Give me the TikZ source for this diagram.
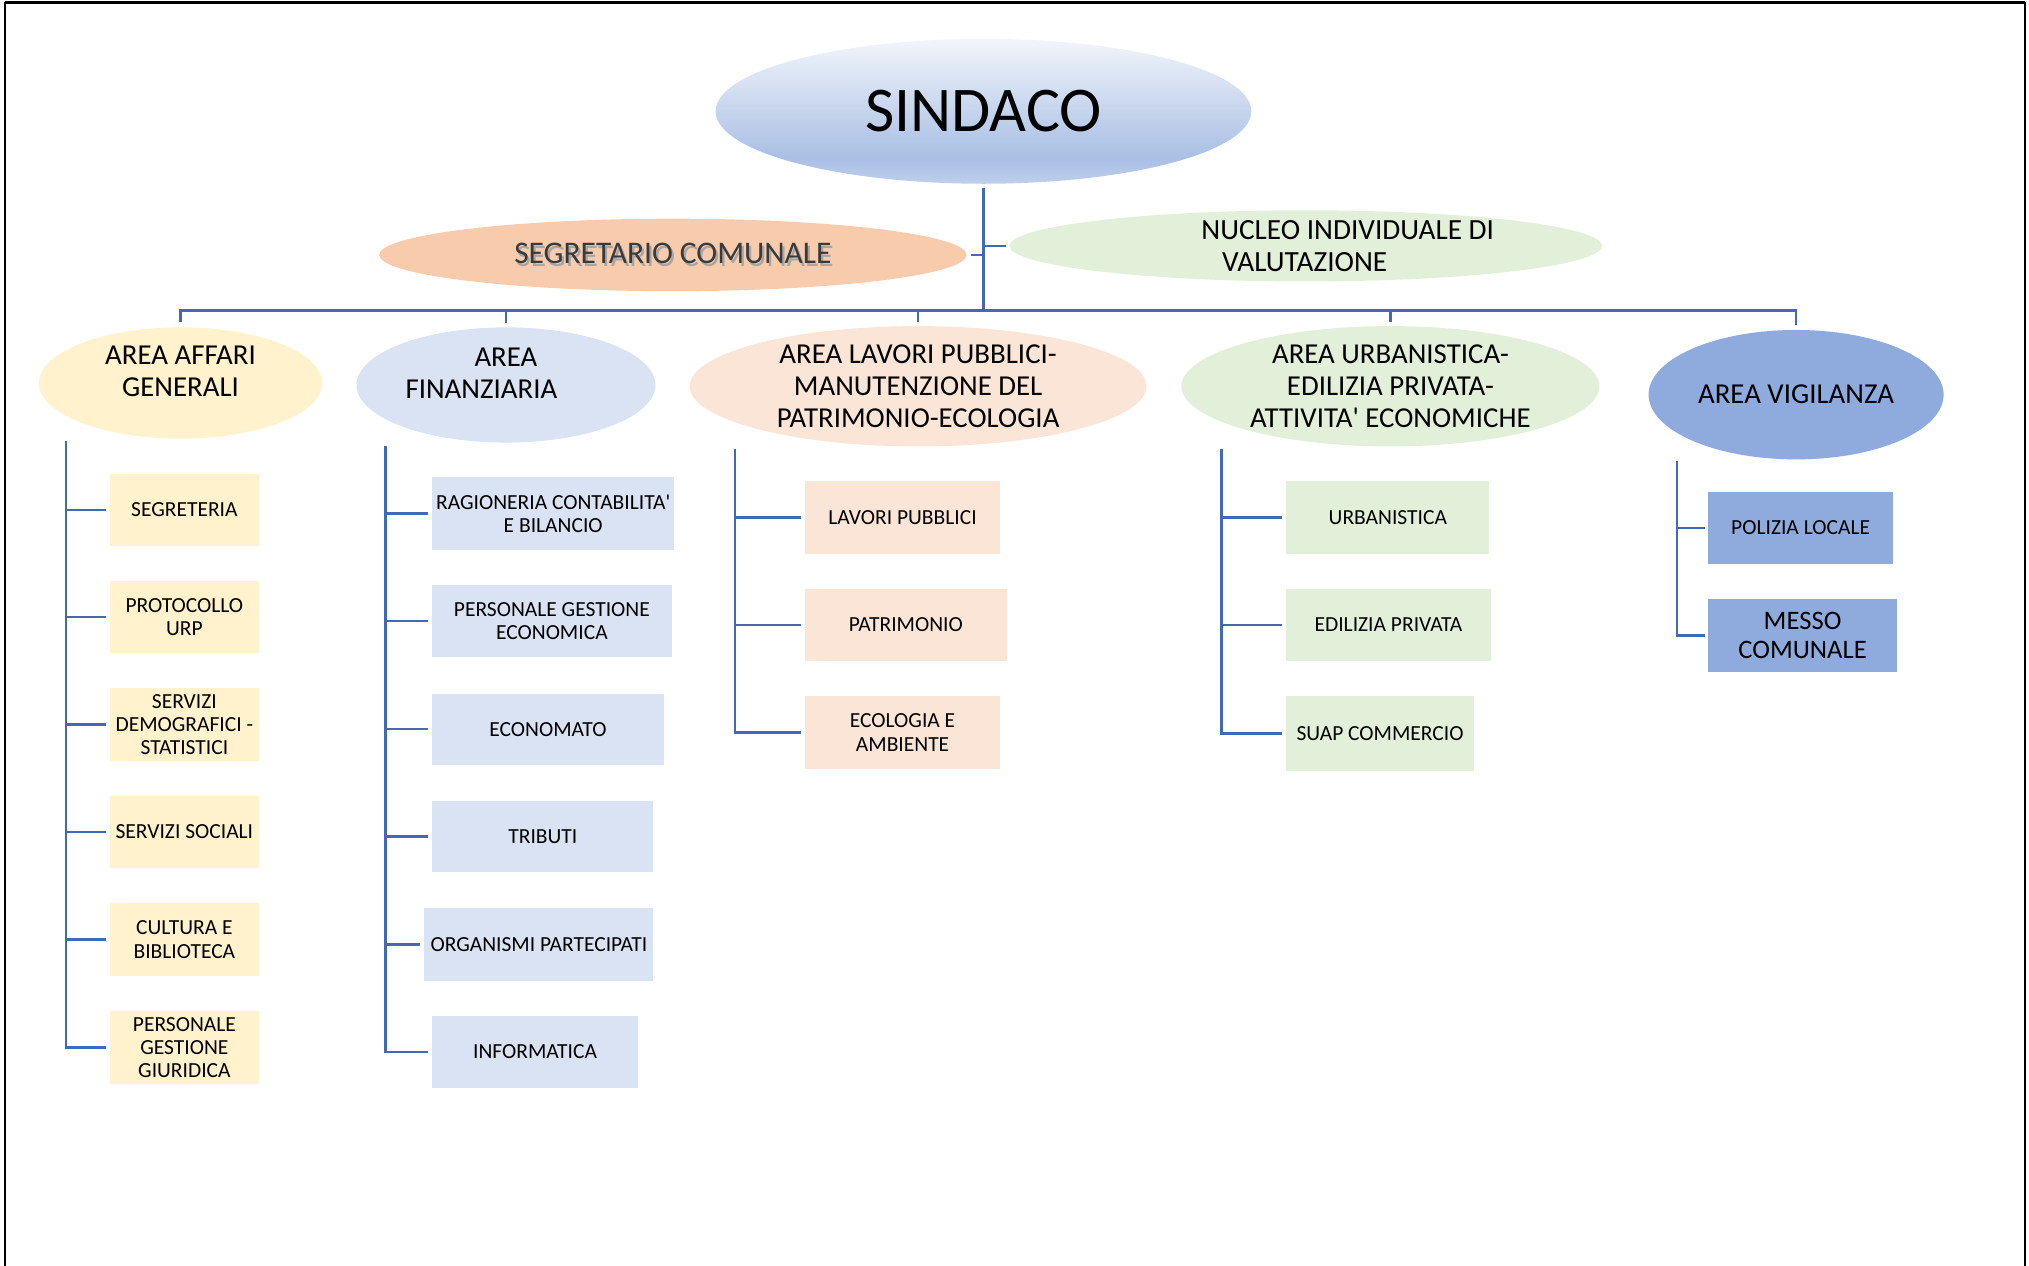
\documentclass[tikz,border=0pt]{standalone}
\usepackage{fontspec}
\setmainfont{Carlito}
\usetikzlibrary{shapes.geometric}
\definecolor{linec}{HTML}{4169B8}
\definecolor{cyel}{HTML}{FFF2CC}
\definecolor{cblu}{HTML}{DAE3F3}
\definecolor{cpea}{HTML}{FBE5D6}
\definecolor{cgrn}{HTML}{E2F0D9}
\definecolor{cvig}{HTML}{8FAADC}
\definecolor{corg}{HTML}{F8CBAD}
\definecolor{sindtop}{HTML}{F2F5FB}
\definecolor{sinddark}{HTML}{A9BFE4}
\definecolor{sindbot}{HTML}{BFCFEC}
\definecolor{segtext}{HTML}{3A3A3A}
\pgfdeclareverticalshading{sindshade}{100bp}{color(0bp)=(sindbot); color(25bp)=(sindbot); color(34bp)=(sinddark); color(75bp)=(sindtop); color(100bp)=(sindtop)}
\newcommand\lifted[2]{\raisebox{#1}[\height][\depth]{\begin{tabular}{@{}c@{}}#2\end{tabular}}}
\newcommand\shtext[1]{\leavevmode\rlap{\hspace{1.1pt}\raisebox{-1.1pt}{\color{black!35}#1}}#1}
\begin{document}
\begin{tikzpicture}[x=0.65pt,y=-0.65pt,
  conn/.style={draw=linec, line width=1.25pt},
  ell/.style={ellipse, inner xsep=-6pt, inner ysep=-14pt, align=center},
  sz/.style 2 args={minimum width=#1*0.65pt, minimum height=#2*0.65pt},
  areafont/.style={font=\fontsize{14.5}{16.25}\selectfont},
  box/.style={rectangle, inner sep=0pt, align=center, font=\fontsize{10.8}{11.7}\selectfont}]
\useasboundingbox (0,0) rectangle (1568,978);
\fill[white] (0,0) rectangle (1568,978);
% frame
\draw[black, line width=0.9pt] (4,978) -- (4,2) -- (1565,2) -- (1565,978);
\draw[black, line width=1.5pt] (4,2) -- (1565,2);

% top level
\node[ellipse, inner sep=0pt, sz={414}{112}, shading=sindshade, font=\fontsize{32}{36}\selectfont] (sind) at (760,86) {SINDACO};
\node[ell, sz={454}{56}, fill=corg, text=segtext, font=\fontsize{15.8}{17}\selectfont] (segr) at (520,197) {\shtext{SEGRETARIO COMUNALE}};
\node[ell, sz={458}{55}, fill=cgrn, align=left, font=\fontsize{14.7}{16.25}\selectfont] (nuc) at (1009,190) {\hspace*{42.25pt}NUCLEO INDIVIDUALE DI\\\hspace*{52.65pt}VALUTAZIONE};

% areas
\node[ell, areafont, sz={219}{86}, fill=cyel] (a1) at (139.5,296) {\lifted{4.6pt}{AREA AFFARI\\GENERALI}};
\node[ell, areafont, sz={231}{89}, fill=cblu] (a2) at (391,297.5) {\lifted{4.6pt}{AREA\\FINANZIARIA\hspace*{24.7pt}}};
\node[ell, areafont, sz={353}{93}, fill=cpea] (a3) at (709.5,298.5) {AREA LAVORI PUBBLICI-\\MANUTENZIONE DEL\\PATRIMONIO-ECOLOGIA};
\node[ell, areafont, sz={323}{93}, fill=cgrn] (a4) at (1074.5,298.5) {AREA URBANISTICA-\\EDILIZIA PRIVATA-\\ATTIVITA\textquotesingle{} ECONOMICHE};
\node[ell, areafont, sz={228}{100}, fill=cvig] (a5) at (1388,305) {AREA VIGILANZA};

% column 1
\node[box, sz={115}{56}, fill=cyel] (b11) at (142.5,394) {SEGRETERIA};
\node[box, sz={115}{56}, fill=cyel] (b12) at (142.5,477) {PROTOCOLLO\\URP};
\node[box, sz={115}{56}, fill=cyel] (b13) at (142.5,560) {SERVIZI\\DEMOGRAFICI -\\STATISTICI};
\node[box, sz={115}{56}, fill=cyel] (b14) at (142.5,643) {SERVIZI SOCIALI};
\node[box, sz={115}{56}, fill=cyel] (b15) at (142.5,726) {CULTURA E\\BIBLIOTECA};
\node[box, sz={115}{57}, fill=cyel] (b16) at (142.5,809.5) {PERSONALE\\GESTIONE\\GIURIDICA};

% column 2
\node[box, sz={187}{56}, fill=cblu] (b21) at (427.5,397) {RAGIONERIA CONTABILITA\textquotesingle\\E BILANCIO};
\node[box, sz={185}{56}, fill=cblu] (b22) at (426.5,480) {PERSONALE GESTIONE\\ECONOMICA};
\node[box, sz={179}{55}, fill=cblu] (b23) at (423.5,563.5) {ECONOMATO};
\node[box, sz={171}{55}, fill=cblu] (b24) at (419.5,646.5) {TRIBUTI};
\node[box, sz={177}{56}, fill=cblu] (b25) at (416.5,730) {ORGANISMI PARTECIPATI};
\node[box, sz={159}{56}, fill=cblu] (b26) at (413.5,813) {INFORMATICA};

% column 3
\node[box, sz={151}{56}, fill=cpea] (b31) at (697.5,400) {LAVORI PUBBLICI};
\node[box, sz={156}{56}, fill=cpea] (b32) at (700,483) {PATRIMONIO};
\node[box, sz={151}{56}, fill=cpea] (b33) at (697.5,566) {ECOLOGIA E\\AMBIENTE};

% column 4
\node[box, sz={157}{56}, fill=cgrn] (b41) at (1072.5,400) {URBANISTICA};
\node[box, sz={158}{56}, fill=cgrn] (b42) at (1073,483) {EDILIZIA PRIVATA};
\node[box, sz={145}{58}, fill=cgrn] (b43) at (1066.5,567) {SUAP COMMERCIO};

% column 5
\node[box, sz={143}{56}, fill=cvig] (b51) at (1391.5,408) {POLIZIA LOCALE};
\node[box, sz={146}{56}, fill=cvig, font=\fontsize{13.4}{14.3}\selectfont] (b52) at (1393,491) {MESSO\\COMUNALE};

% connectors top
\coordinate (bus) at (760,240);
\draw[conn, shorten <=2pt] (sind.south) -- (bus);
\draw[conn, shorten <=2.5pt, shorten >=2.5pt] (a1.north) |- (bus) -| (a5.north);
\foreach \a in {a2,a3,a4}
  \draw[conn, shorten <=2pt] (\a.north) -- (\a.north |- bus);
\draw[conn, shorten <=2pt] (segr.east) -- (segr.east -| bus);
\draw[conn, shorten <=1.5pt] (nuc.west) -- (nuc.west -| bus);

% spines
\coordinate (s1) at (51,341);
\coordinate (s2) at (298,345);
\coordinate (s3) at (568,347);
\coordinate (s4) at (944,347);
\coordinate (s5) at (1296,356);
\draw[conn, shorten >=2pt] (s1) |- (b16.west);
\foreach \b in {b11,b12,b13,b14,b15}
  \draw[conn, shorten >=2pt] (s1 |- \b.west) -- (\b.west);
\draw[conn, shorten >=2pt] (s2) |- (b26.west);
\foreach \b in {b21,b22,b23,b24,b25}
  \draw[conn, shorten >=2pt] (s2 |- \b.west) -- (\b.west);
\draw[conn, shorten >=2pt] (s3) |- (b33.west);
\foreach \b in {b31,b32}
  \draw[conn, shorten >=2pt] (s3 |- \b.west) -- (\b.west);
\draw[conn, shorten >=2pt] (s4) |- (b43.west);
\foreach \b in {b41,b42}
  \draw[conn, shorten >=2pt] (s4 |- \b.west) -- (\b.west);
\draw[conn, shorten >=1.5pt] (s5) |- (b52.west);
\draw[conn, shorten >=1.5pt] (s5 |- b51.west) -- (b51.west);
\end{tikzpicture}
\end{document}
